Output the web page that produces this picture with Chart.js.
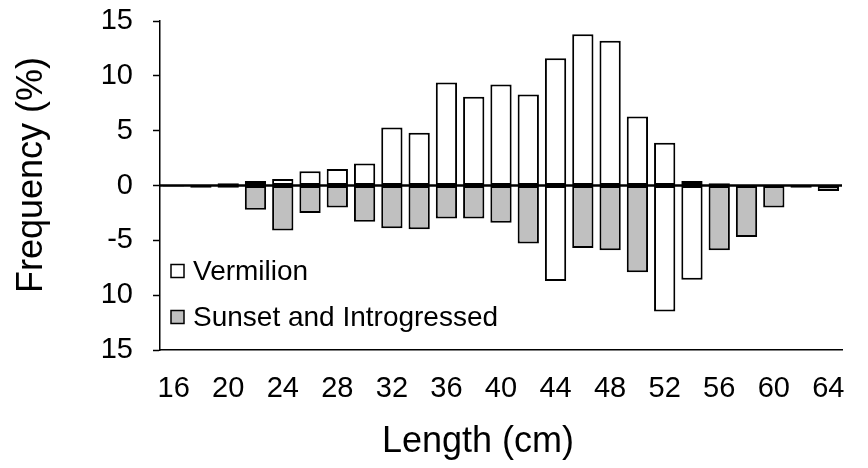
<!doctype html>
<html lang="en">
  <head>
    <meta charset="UTF-8" />
    <title>Length frequency - Vermilion vs Sunset</title>
    <script src="https://cdn.jsdelivr.net/npm/chart.js"></script>
    <style>
      html,
      body {
        margin: 0;
        padding: 0;
        background: #fff;
      }
      .chart-container {
        position: relative;
        width: 868px;
        height: 468px;
      }
    </style>
  </head>
  <body>
    <div class="chart-container">
      <canvas id="lengthChart"></canvas>
    </div>

    <script>
      // length classes (cm)
      const lengths = [16, 18, 20, 22, 24, 26, 28, 30, 32, 34, 36, 38, 40, 42, 44, 46, 48, 50, 52, 54, 56, 58, 60, 62, 64]
      // Vermilion frequency (%), plotted upward
      const vermilion = [0, 0, 0.2, 0.4, 0.6, 1.3, 1.5, 2.0, 5.3, 4.8, 9.4, 8.1, 9.2, 8.3, 11.6, 13.8, 13.2, 6.3, 3.9, 0.4, 0.2, 0, 0, 0, 0]
      // Sunset and introgressed frequency (%), plotted downward
      const sunset = [-0.1, -0.2, -0.2, -2.2, -4.1, -2.5, -2.0, -3.3, -3.9, -4.0, -3.0, -3.0, -3.4, -5.3, -8.7, -5.7, -5.9, -7.9, -11.5, -8.6, -5.9, -4.7, -2.0, -0.2, -0.5]

      const xTickLabels = [16, 20, 24, 28, 32, 36, 40, 44, 48, 52, 56, 60, 64]
      const yTickValues = [15, 10, 5, 0, -5, -10, -15]
      const yTickLabels = ['15', '10', '5', '0', '-5', '10', '15']

      // bars that the original drew with the other fill
      const sunsetWhiteAt = [44, 52, 54]
      const vermilionGrayAt = [20, 56]

      const WHITE = '#ffffff'
      const GRAY = '#c0c0c0'

      Chart.defaults.font.family = "'Liberation Sans', Arial, sans-serif"
      Chart.defaults.color = '#000'

      const overlay = {
        id: 'overlay',
        afterDatasetsDraw(chart) {
          const { ctx, chartArea, scales } = chart
          const y0 = scales.y.getPixelForValue(0)
          ctx.save()
          // zero line on top of the bars
          ctx.strokeStyle = '#000'
          ctx.lineWidth = 2.5
          ctx.beginPath()
          ctx.moveTo(chartArea.left, y0)
          ctx.lineTo(chartArea.right, y0)
          ctx.stroke()

          // legend
          const items = [
            { text: 'Vermilion', fill: WHITE, y: 271 },
            { text: 'Sunset and Introgressed', fill: GRAY, y: 317 }
          ]
          ctx.font = "28px 'Liberation Sans', Arial, sans-serif"
          ctx.textBaseline = 'middle'
          ctx.textAlign = 'left'
          items.forEach((it) => {
            ctx.fillStyle = it.fill
            ctx.fillRect(171, it.y - 6.5, 13, 13)
            ctx.lineWidth = 1.5
            ctx.strokeRect(171, it.y - 6.5, 13, 13)
            ctx.fillStyle = '#000'
            ctx.fillText(it.text, 193, it.y + 1)
          })

          // axis titles
          ctx.font = "36px 'Liberation Sans', Arial, sans-serif"
          ctx.textAlign = 'center'
          ctx.textBaseline = 'alphabetic'
          ctx.fillText('Length (cm)', 478, 452)
          ctx.translate(42, 175)
          ctx.rotate(-Math.PI / 2)
          ctx.fillText('Frequency (%)', 0, 0)
          ctx.restore()
        }
      }

      const ctx = document.getElementById('lengthChart').getContext('2d')
      const lengthChart = new Chart(ctx, {
        type: 'bar',
        data: {
          labels: lengths,
          datasets: [
            {
              label: 'Vermilion',
              data: vermilion,
              backgroundColor: (c) => (vermilionGrayAt.includes(lengths[c.dataIndex]) ? GRAY : WHITE),
              borderColor: '#000',
              borderWidth: 2,
              borderSkipped: false,
              grouped: false,
              barPercentage: 0.78,
              categoryPercentage: 1
            },
            {
              label: 'Sunset and Introgressed',
              data: sunset,
              backgroundColor: (c) => (sunsetWhiteAt.includes(lengths[c.dataIndex]) ? WHITE : GRAY),
              borderColor: '#000',
              borderWidth: 2,
              borderSkipped: false,
              grouped: false,
              barPercentage: 0.78,
              categoryPercentage: 1
            }
          ]
        },
        options: {
          responsive: true,
          maintainAspectRatio: false,
          animation: false,
          layout: { padding: { top: 21, right: 26, left: 0, bottom: 0 } },
          plugins: {
            legend: { display: false },
            tooltip: { enabled: false }
          },
          scales: {
            x: {
              grid: { display: false, drawTicks: false },
              border: { color: '#000', width: 1.5 },
              ticks: {
                autoSkip: false,
                maxRotation: 0,
                padding: 22,
                font: { size: 29 },
                callback: (v, i) => (xTickLabels.includes(lengths[i]) ? String(lengths[i]) : '')
              },
              afterFit: (s) => {
                s.height = 118
                s.paddingLeft = 0
                s.paddingRight = 0
              }
            },
            y: {
              min: -15,
              max: 15,
              afterBuildTicks: (s) => {
                s.ticks = yTickValues.map((v) => ({ value: v }))
              },
              ticks: {
                padding: 20,
                font: { size: 29 },
                callback: (v) => yTickLabels[yTickValues.indexOf(v)]
              },
              grid: {
                drawOnChartArea: false,
                tickLength: 7,
                tickColor: '#000',
                tickWidth: 1.5
              },
              border: { color: '#000', width: 1.5 },
              afterFit: (s) => {
                s.width = 160
                s.paddingTop = 0
                s.paddingBottom = 0
              }
            }
          }
        },
        plugins: [overlay]
      })
    </script>
  </body>
</html>
